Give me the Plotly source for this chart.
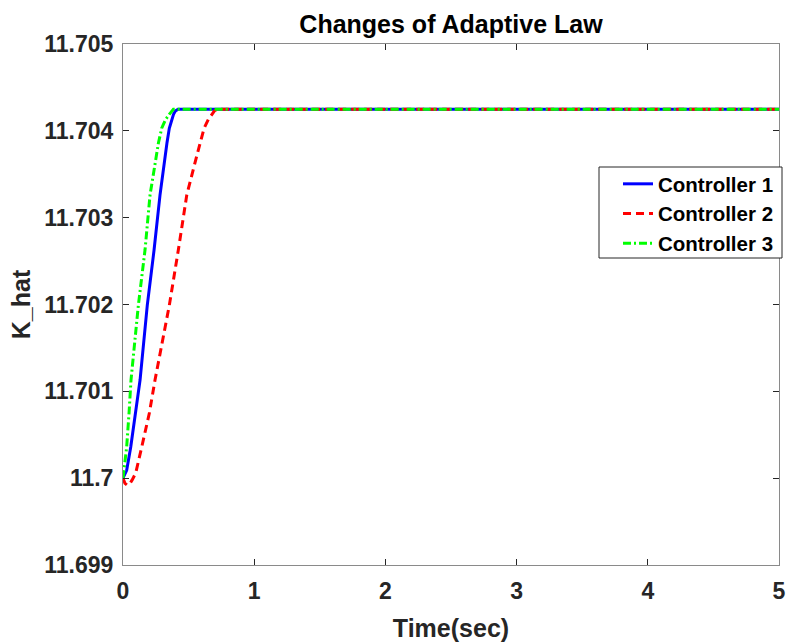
import plotly.graph_objects as go

# Adaptive gain estimate K_hat over time for three controllers
t_c1 = [0, 0.028, 0.059, 0.097, 0.130, 0.185, 0.237, 0.282, 0.313, 0.335, 0.353, 0.370, 0.385, 0.400, 0.42, 5]
k_c1 = [11.70000, 11.70009, 11.70036, 11.70075, 11.70113, 11.70199, 11.70263, 11.70326,
        11.70364, 11.70386, 11.70403, 11.70413, 11.70419, 11.70423, 11.704248, 11.704248]

t_c2 = [0, 0.015, 0.031, 0.050, 0.070, 0.097, 0.143, 0.201, 0.244, 0.353, 0.422, 0.486, 0.55,
        0.590, 0.618, 0.650, 0.677, 0.697, 0.715, 5]
k_c2 = [11.70000, 11.69994, 11.69992, 11.69993, 11.69998, 11.70006, 11.70036, 11.70075,
        11.70113, 11.70199, 11.70263, 11.70326, 11.70364, 11.70387, 11.70403, 11.70413,
        11.70419, 11.70423, 11.704248, 11.704248]

t_c3 = [0, 0.010, 0.028, 0.046, 0.061, 0.117, 0.168, 0.206, 0.244, 0.270, 0.295, 0.325, 0.353,
        0.370, 0.384, 5]
k_c3 = [11.70000, 11.70013, 11.70036, 11.70075, 11.70113, 11.70199, 11.70263, 11.70326,
        11.70364, 11.70386, 11.70403, 11.70413, 11.70419, 11.70423, 11.704248, 11.704248]

x_ticks = [0, 1, 2, 3, 4, 5]
y_ticks = [11.699, 11.700, 11.701, 11.702, 11.703, 11.704, 11.705]
y_tick_text = ["11.699", "11.7", "11.701", "11.702", "11.703", "11.704", "11.705"]

FONT = "Liberation Sans, Arial, Helvetica, sans-serif"
AXIS_GRAY = "#262626"

fig = go.Figure()
fig.add_trace(go.Scatter(
    x=t_c1, y=k_c1, mode="lines", name="Controller 1",
    line=dict(color="#0000FF", width=3),
))
fig.add_trace(go.Scatter(
    x=t_c2, y=k_c2, mode="lines", name="Controller 2",
    line=dict(color="#FF0000", width=3, dash="8px,5px"),
))
fig.add_trace(go.Scatter(
    x=t_c3, y=k_c3, mode="lines", name="Controller 3",
    line=dict(color="#00FF00", width=3, dash="8px,3px,2px,3px"),
))

axis_common = dict(
    showline=True, linecolor="#8a8a8a", linewidth=1, mirror="ticks",
    ticks="inside", ticklen=6, tickwidth=1, tickcolor=AXIS_GRAY,
    showgrid=False, zeroline=False, automargin=False,
    tickfont=dict(family=FONT, size=23, color=AXIS_GRAY, weight="bold"),
)

# legend frame drawn as a shape so the box can extend past the plot edge
fig.add_shape(
    type="rect", xref="paper", yref="paper",
    x0=(599 - 123) / 656, x1=(782 - 123) / 656,
    y0=(565 - 258) / 521, y1=(565 - 167) / 521,
    line=dict(color=AXIS_GRAY, width=1), fillcolor="white", layer="above",
)

fig.update_layout(
    width=787, height=642,
    margin=dict(l=123, r=8, t=44, b=77),
    paper_bgcolor="white", plot_bgcolor="white",
    title=dict(
        text="<b>Changes of Adaptive Law</b>",
        x=0.5, xref="paper", xanchor="center",
        y=1, yref="container", yanchor="top", pad=dict(t=15),
        font=dict(family=FONT, size=25, color="black"),
    ),
    xaxis=dict(
        range=[0, 5], tickvals=x_ticks, ticklabelstandoff=5,
        title=dict(text="<b>Time(sec)</b>", font=dict(family=FONT, size=25, color=AXIS_GRAY), standoff=17),
        **axis_common,
    ),
    yaxis=dict(
        range=[11.699, 11.705], tickvals=y_ticks, ticktext=y_tick_text, ticklabelstandoff=4,
        title=dict(text="<b>K_hat</b>", font=dict(family=FONT, size=25, color=AXIS_GRAY), standoff=6),
        **axis_common,
    ),
    legend=dict(
        x=(618 - 123) / 656, y=(565 - 164) / 521, xanchor="left", yanchor="top",
        bgcolor="rgba(0,0,0,0)", borderwidth=0,
        font=dict(family=FONT, size=20.5, color="black", weight="bold"),
        tracegroupgap=0,
    ),
    showlegend=True,
)

fig.write_html("out.html")
